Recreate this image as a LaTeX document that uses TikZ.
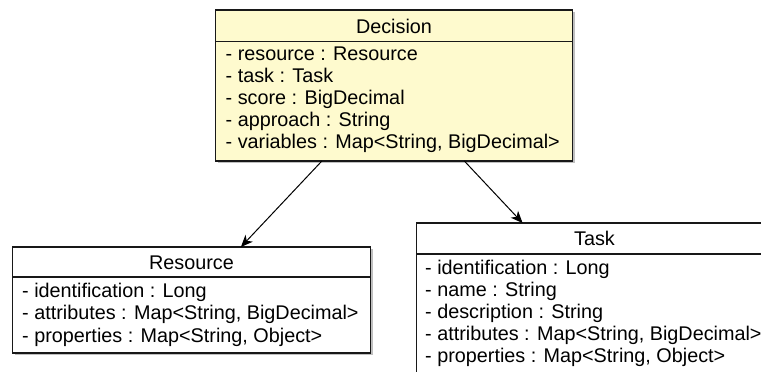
\documentclass[tikz,border=0pt]{standalone}
\usepackage{fontspec}
\setmainfont{Liberation Sans}
\usetikzlibrary{arrows.meta,calc,shadows}

\definecolor{classfill}{RGB}{254,250,206}
\definecolor{classline}{RGB}{24,24,24}

\tikzset{
  classbox/.style={draw=classline, line width=1.3pt, rectangle, inner sep=0pt, outer sep=0pt,
    anchor=north west, drop shadow={shadow xshift=2pt, shadow yshift=-2pt, opacity=0.25, fill=black}},
  sepline/.style={draw=classline, line width=1.3pt},
  title/.style={anchor=base, inner sep=0pt},
  member/.style={anchor=base west, inner sep=0pt},
  assoc/.style={draw=black, line width=1pt, -{Stealth[length=12pt, width=10pt, inset=3.5pt]}},
}

\begin{document}
\begin{tikzpicture}[x=1pt, y=-1pt, font=\fontsize{19.8}{22}\selectfont]
  \useasboundingbox (0,0) rectangle (761,372);
  \fill[white] (0,0) rectangle (761,372);
  \clip (0,0) rectangle (761,372);

  % Decision
  \node[classbox, fill=classfill, minimum width=357pt, minimum height=151pt] (decision) at (215.5,10) {};
  \draw[sepline] (215.5,41.5) -- (572.5,41.5);
  \node[title] (decisionT) at (394,33) {Decision};
  \node[member] (d1) at (225.5,60) {- resource : Resource};
  \node[member] (d2) at (225.5,82) {- task : Task};
  \node[member] (d3) at (225.5,104) {- score : BigDecimal};
  \node[member] (d4) at (225.5,126) {- approach : String};
  \node[member] (d5) at (225.5,148) {- variables : Map<String, BigDecimal>};

  % Resource
  \node[classbox, fill=white, minimum width=358pt, minimum height=106pt] (resource) at (12.5,247) {};
  \draw[sepline] (12.5,277) -- (370.5,277);
  \node[title] (resourceT) at (191.5,269) {Resource};
  \node[member] (r1) at (22,297) {- identification : Long};
  \node[member] (r2) at (22,319.5) {- attributes : Map<String, BigDecimal>};
  \node[member] (r3) at (22,342) {- properties : Map<String, Object>};

  % Task
  \node[classbox, fill=white, minimum width=356pt, minimum height=152pt] (task) at (416.5,223) {};
  \draw[sepline] (416.5,254) -- (772.5,254);
  \node[title] (taskT) at (594.5,245.5) {Task};
  \node[member] (t1) at (425,274) {- identification : Long};
  \node[member] (t2) at (425,296) {- name : String};
  \node[member] (t3) at (425,318) {- description : String};
  \node[member] (t4) at (425,340) {- attributes : Map<String, BigDecimal>};
  \node[member] (t5) at (425,362) {- properties : Map<String, Object>};

  % associations
  \draw[assoc] ($(decision.south west)!0.298!(decision.south east)$) -- ($(resource.north west)!0.638!(resource.north east)$);
  \draw[assoc] ($(decision.south west)!0.697!(decision.south east)$) -- ($(task.north west)!0.298!(task.north east)$);
\end{tikzpicture}
\end{document}
